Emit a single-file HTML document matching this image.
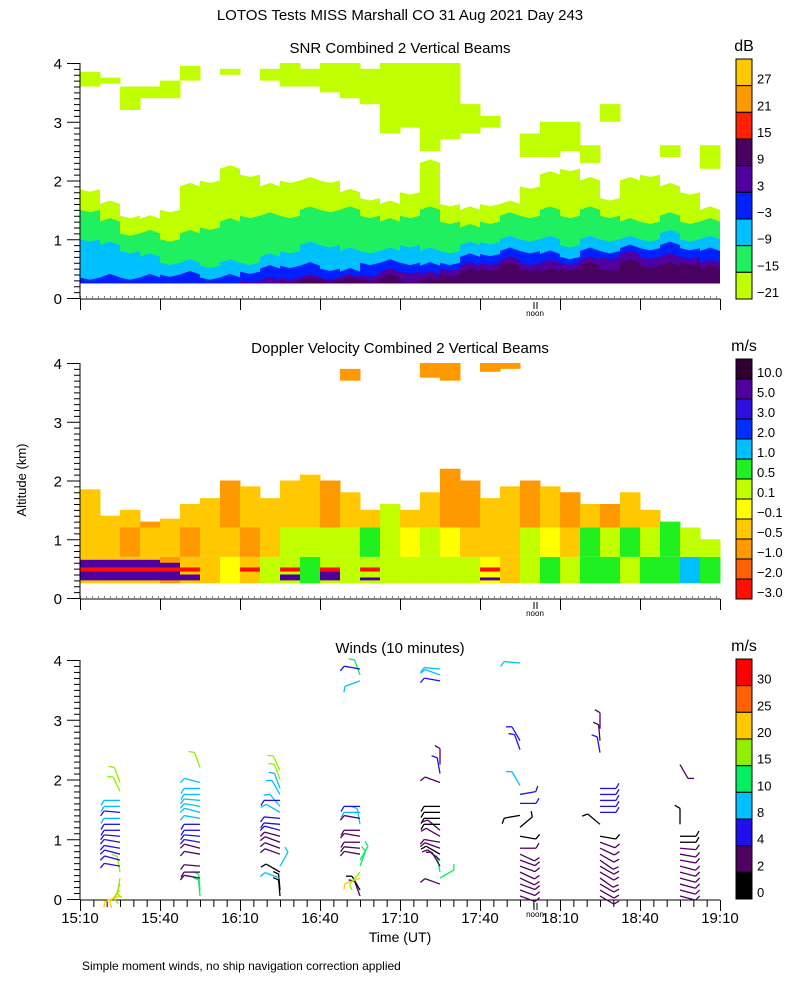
<!DOCTYPE html>
<html><head><meta charset="utf-8">
<style>
body{margin:0;background:#fff;}
svg{display:block;font-family:"Liberation Sans",sans-serif;}
</style></head>
<body>
<svg id="chart" width="800" height="1000" viewBox="0 0 800 1000">
<rect width="800" height="1000" fill="#fff"/>
<text x="400" y="20" text-anchor="middle" font-size="15">LOTOS Tests MISS Marshall CO  31 Aug 2021 Day 243</text>
<text x="400" y="53" text-anchor="middle" font-size="15">SNR Combined 2 Vertical Beams</text>
<text x="400" y="353" text-anchor="middle" font-size="15">Doppler Velocity Combined 2 Vertical Beams</text>
<text x="400" y="653" text-anchor="middle" font-size="15">Winds (10 minutes)</text>
<text x="0" y="0" transform="translate(26,480) rotate(-90)" text-anchor="middle" font-size="13">Altitude (km)</text>
<text x="400" y="942" text-anchor="middle" font-size="14">Time (UT)</text>
<text x="82" y="970" font-size="12">Simple moment winds, no ship navigation correction applied</text>
<g id="layer"></g>
</svg>
<script>
// ---------- data ----------
const colStartMin = 0; // columns each 7.5 minutes from 15:10
const snrDarkPurpleTop=[0,0,0,0,0,0,0,0,0,0,0.3,0.3,0.32,0.3,0.32,0.35,0.3,0.3,0.4,0.45,0.5,0.55,0.5,0.45,0.5,0.55,0.5,0.6,0.55,0.55,0.6,0.5];
const snrPurpleTop=[0,0,0,0,0,0,0,0,0.3,0.3,0.35,0.35,0.35,0.35,0.4,0.45,0.45,0.4,0.5,0.55,0.6,0.65,0.6,0.6,0.6,0.65,0.7,0.75,0.7,0.7,0.7,0.6];
const snrBlueTop=[0.35,0.35,0.35,0.35,0.4,0.4,0.35,0.35,0.45,0.5,0.55,0.55,0.5,0.45,0.6,0.6,0.6,0.55,0.6,0.7,0.75,0.8,0.8,0.75,0.7,0.8,0.8,0.85,0.85,0.9,0.85,0.8];
const snrCyanTop=[1.0,0.9,0.8,0.7,0.6,0.6,0.55,0.6,0.6,0.7,0.8,0.9,0.9,0.8,0.8,0.8,0.9,0.8,0.8,0.9,0.95,1.0,1.0,1.0,0.9,1.0,1.0,1.0,1.0,1.1,1.0,1.0];
const snrGreenTop=[1.5,1.3,1.1,1.1,1.0,1.1,1.2,1.3,1.4,1.4,1.4,1.5,1.5,1.5,1.4,1.3,1.4,1.5,1.3,1.2,1.3,1.4,1.4,1.5,1.4,1.5,1.4,1.3,1.3,1.4,1.3,1.3];
const snrYgTop=[1.85,1.6,1.4,1.35,1.5,1.9,2.0,2.2,2.1,1.9,2.0,2.0,2.0,1.8,1.7,1.6,1.8,2.3,1.6,1.5,1.6,1.6,1.9,2.1,2.2,2.0,1.7,2.0,2.1,1.9,1.8,1.5];
const snrUpperLo=[3.6,3.65,3.2,3.4,3.4,3.7,0,3.8,0,3.7,3.6,3.6,3.5,3.4,3.3,2.8,2.9,2.5,2.7,2.8,2.9,0,2.4,2.4,2.5,2.3,3.0,0,0,2.4,0,2.2];
const snrUpperHi=[3.85,3.75,3.6,3.6,3.7,3.95,0,3.9,0,3.9,4.0,3.9,4.0,4.0,3.9,4.0,4.0,4.0,4.0,3.3,3.1,0,2.8,3.0,3.0,2.6,3.3,0,0,2.6,0,2.6];
const dopTop=[1.85,1.4,1.5,1.3,1.35,1.6,1.7,2.0,1.9,1.7,2.0,2.1,2.0,1.8,1.5,1.6,1.5,1.8,2.2,2.0,1.7,1.9,2.0,1.9,1.8,1.6,1.6,1.8,1.5,1.3,1.2,1.0];
const dopLowClass=[3,3,3,3,2,3,3,4,3,5,5,6,5,5,5,5,5,5,5,5,4,3,5,6,5,6,6,5,6,6,7,6];
const dopMidClass=[3,3,2,3,3,2,3,3,2,3,5,5,5,5,6,5,4,5,4,3,3,3,5,4,3,6,5,6,5,6,5,5];
const dopHighClass=[3,3,3,2,3,3,3,2,3,3,3,3,2,3,3,5,3,3,2,2,3,3,2,3,2,3,2,3,3,6,5,6];
const dopStripeTop=[0.65,0.65,0.65,0.65,0.6,0.4,0,0,0.3,0,0.4,0,0.45,0,0.35,0,0,0,0,0,0.35,0,0,0,0,0,0,0,0,0,0,0];
const dopUpperLo=[0,0,0,0,0,0,0,0,0,0,0,0,0,3.7,0,0,0,3.75,3.7,0,3.85,3.9,0,0,0,0,0,0,0,0,0,0];
const dopUpperHi=[0,0,0,0,0,0,0,0,0,0,0,0,0,3.9,0,0,0,4.0,4.0,0,4.0,4.0,0,0,0,0,0,0,0,0,0,0];
const snrTickLabels=["27","21","15","9","3","−3","−9","−15","−21"];
const dopTickLabels=["10.0","5.0","3.0","2.0","1.0","0.5","0.1","−0.1","−0.5","−1.0","−2.0","−3.0"];
const windTickLabels=["30","25","20","15","10","8","4","2","0"];
const timeLabels=["15:10","15:40","16:10","16:40","17:10","17:40","18:10","18:40","19:10"];
// wind profiles: time (min after 15:10), heights (km), speeds (m/s), staff angles (deg)
const windTimes=[15,45,75,105,135,165,195,225];
const windH0=[0.05,0.15,0.25,0.35,0.45,0.55,0.65,0.75,0.85,0.95,1.05,1.15,1.25,1.35,1.45,1.55,1.65,1.8,1.95];
const windS0=[22,22,17,17,17,6,6,6,6,6,6,6,6,9,6,9,9,17,17];
const windA0=[200,230,250,260,100,170,165,165,170,170,175,180,180,180,175,180,180,115,110];
const windH1=[0.05,0.15,0.35,0.45,0.55,0.75,0.85,0.95,1.05,1.15,1.25,1.35,1.45,1.55,1.65,1.75,1.85,1.95,2.2];
const windS1=[12,12,3,3,3,3,3,6,6,6,6,9,9,9,9,9,9,9,17];
const windA1=[95,95,170,180,175,170,165,170,175,180,180,170,165,170,175,180,180,165,110];
const windH2=[0.05,0.15,0.35,0.45,0.55,0.75,0.85,0.95,1.05,1.15,1.25,1.35,1.45,1.55,1.65,1.75,1.85,2.0,2.15];
const windS2=[0,0,9,0,9,3,3,3,3,6,6,6,9,9,6,9,9,17,17];
const windA2=[95,95,160,150,60,160,160,160,165,165,175,175,150,130,180,120,110,110,115];
const windH3=[0.05,0.15,0.35,0.45,0.55,0.65,0.75,0.85,0.95,1.05,1.15,1.25,1.35,1.45,1.55,3.65,3.75,3.85];
const windS3=[3,0,22,17,12,12,3,3,3,3,3,9,3,9,6,9,12,6];
const windA3=[110,120,200,230,70,60,170,175,180,170,180,100,170,180,180,200,110,170];
const windH4=[0.25,0.35,0.45,0.55,0.65,0.75,0.85,0.95,1.05,1.15,1.25,1.35,1.45,1.55,1.95,2.1,2.25,3.65,3.75,3.85];
const windS4=[3,12,12,3,3,0,3,3,3,3,0,0,0,0,3,6,3,6,9,9];
const windA4=[160,30,100,120,140,150,160,170,150,140,180,180,180,180,160,100,90,170,160,175];
const windH5=[0.05,0.15,0.25,0.35,0.45,0.55,0.65,0.75,0.85,1.05,1.2,1.4,1.6,1.75,1.9,2.5,2.65,3.95];
const windS5=[3,3,3,3,3,3,3,3,3,0,0,0,6,6,9,6,6,9];
const windA5=[-20,-20,-20,-25,-25,-20,-20,-25,0,-10,40,190,0,10,120,110,120,175];
const windH6=[0.05,0.15,0.25,0.35,0.45,0.55,0.65,0.75,0.85,0.95,1.05,1.25,1.45,1.55,1.65,1.75,1.85,2.45,2.65,2.85];
const windS6=[3,3,3,3,3,3,3,3,3,3,0,0,6,6,6,6,6,6,3,3];
const windA6=[-30,-30,-30,-35,-30,-30,-35,-30,-25,-20,-10,140,0,0,0,0,0,100,95,90];
const windH7=[0.05,0.15,0.25,0.35,0.45,0.55,0.65,0.75,0.85,0.95,1.05,1.25,2.25];
const windS7=[3,3,3,3,3,3,3,3,3,0,0,0,3];
const windA7=[-15,-15,-15,-15,-15,-15,-10,-10,-5,0,0,90,-60];
// ---------- helpers ----------
const NS="http://www.w3.org/2000/svg";
const layer=document.getElementById('layer');
function mk(tag,attrs,parent){const e=document.createElementNS(NS,tag);for(const k in attrs)e.setAttribute(k,attrs[k]);(parent||layer).appendChild(e);return e;}
const X0=80,X1=720;
function xOfMin(m){return X0+m*(X1-X0)/240;}
const panels=[{base:298,scale:58.75},{base:598,scale:58.75},{base:899,scale:59.75}];
function yOf(p,km){return panels[p].base-km*panels[p].scale;}
const colW=7.5;
const snrColors=["#ffc800","#ff9900","#ff2000","#4a0060","#5000a0","#0020ff","#00c0ff","#20f060","#c0ff00"];
const dopColors=["#ff1000","#ff6000","#ff9900","#ffc800","#ffff00","#c0ff00","#20f020","#00c0ff","#0030ff","#3010e0","#5000a0","#300030"];
const windColors=["#ff0000","#ff6000","#ffc800","#90f000","#00f060","#00c0ff","#2010f0","#500060","#000000"];
function windColor(s){if(s<2)return windColors[8];if(s<4)return windColors[7];if(s<8)return windColors[6];if(s<10)return windColors[5];if(s<15)return windColors[4];if(s<20)return windColors[3];if(s<25)return windColors[2];if(s<30)return windColors[1];return windColors[0];}
// band polygon from floor to tops array
function band(p,tops,floor,color,name){
  let pts=[];const n=tops.length;
  const fl=[];
  for(let i=0;i<n;i++){
    const xa=xOfMin(i*colW), xb=xOfMin((i+1)*colW);
    const t=tops[i];
    if(t<=floor){ if(pts.length){fl.push(pts);pts=[];} continue; }
    pts.push([xa,yOf(p,t)],[(xa+xb)/2,yOf(p,t+ (i%2?0.06:-0.04))],[xb,yOf(p,t)]);
  }
  if(pts.length)fl.push(pts);
  fl.forEach((seg,k)=>{
    const x0=seg[0][0],x1=seg[seg.length-1][0];
    const d=seg.map(q=>q.join(',')).join(' ')+` ${x1},${yOf(p,floor)} ${x0},${yOf(p,floor)}`;
    const e=mk('polygon',{points:d,fill:color});
    
    
  });
}
function rectKm(p,i,lo,hi,color,name){
  if(hi<=lo)return;
  const e=mk('rect',{x:xOfMin(i*colW),y:yOf(p,hi),width:xOfMin((i+1)*colW)-xOfMin(i*colW)+0.5,height:yOf(p,lo)-yOf(p,hi),fill:color});
  
  
}
// ---------- SNR ----------
band(0,snrYgTop,0.25,snrColors[8],'snr-band-minus21');
band(0,snrGreenTop,0.25,snrColors[7],'snr-band-minus15');
band(0,snrCyanTop,0.25,snrColors[6],'snr-band-minus9');
band(0,snrBlueTop,0.25,snrColors[5],'snr-band-minus3');
band(0,snrPurpleTop,0.25,snrColors[4],'snr-band-3');
band(0,snrDarkPurpleTop,0.25,snrColors[3],'snr-band-9');
for(let i=0;i<snrUpperLo.length;i++){ if(snrUpperHi[i]>0) rectKm(0,i,snrUpperLo[i],snrUpperHi[i],snrColors[8],'snr-upper-patch'); }
// ---------- Doppler ----------
for(let i=0;i<dopTop.length;i++){
  const t=dopTop[i];
  rectKm(1,i,0.25,Math.min(t,0.7),dopColors[dopLowClass[i]],'doppler-low-cell');
  rectKm(1,i,0.7,Math.min(t,1.2),dopColors[dopMidClass[i]],'doppler-mid-cell');
  rectKm(1,i,1.2,t,dopColors[dopHighClass[i]],'doppler-high-cell');
  if(dopStripeTop[i]>0){
    rectKm(1,i,0.3,dopStripeTop[i],dopColors[10],'doppler-stripe');
    rectKm(1,i,0.45,0.52,dopColors[0],'doppler-stripe-red');
  }
  if(dopUpperHi[i]>0) rectKm(1,i,dopUpperLo[i],dopUpperHi[i],dopColors[2],'doppler-upper-patch');
}
// ---------- Axes ----------
const axisNames=['snr','doppler','winds'];
for(let p=0;p<3;p++){
  const g=mk('g',{});
  
  
  const yb=panels[p].base+1, yt=yOf(p,4);
  mk('line',{x1:X0,y1:yt,x2:X0,y2:yb,stroke:'#000'},g);
  mk('line',{x1:X0,y1:yb,x2:X1,y2:yb,stroke:'#000'},g);
  for(let k=0;k<=40;k++){
    const y=yOf(p,k/10)+0.5;
    mk('line',{x1:(k%10==0)?67:74,y1:y,x2:X0,y2:y,stroke:'#000'},g);
  }
  for(let k=0;k<=4;k++){
    const t=mk('text',{x:62,y:yOf(p,k)+6,'text-anchor':'end','font-size':15},g);
    t.textContent=k;
    
    
  }
  for(let k=0;k<timeLabels.length;k++){
    const x=xOfMin(k*30)+0.5;
    mk('line',{x1:x,y1:yb,x2:x,y2:yb+11,stroke:'#000'},g);
  }
  if(p==2){
    for(let m=0;m<=240;m+=5){ if(m%30){const x=xOfMin(m)+0.5; mk('line',{x1:x,y1:yb,x2:x,y2:yb+7,stroke:'#000'},g);} }
    for(let k=0;k<timeLabels.length;k++){
      const t=mk('text',{x:xOfMin(k*30),y:yb+23,'text-anchor':'middle','font-size':15},g);
      t.textContent=timeLabels[k];
      
      
    }
  } else {
    mk('line',{x1:X0,y1:yb-2,x2:X1,y2:yb-2,stroke:'#000','stroke-dasharray':'1,5'},g);
  }
  mk('line',{x1:534,y1:yb+3,x2:534,y2:yb+10,stroke:'#000'},g);
  mk('line',{x1:537,y1:yb+3,x2:537,y2:yb+10,stroke:'#000'},g);
  const nt=mk('text',{x:535,y:yb+17,'text-anchor':'middle','font-size':8},g);
  nt.textContent='noon';
  
  
}
// ---------- Winds ----------
const windH=[windH0,windH1,windH2,windH3,windH4,windH5,windH6,windH7];
const windS=[windS0,windS1,windS2,windS3,windS4,windS5,windS6,windS7];
const windA=[windA0,windA1,windA2,windA3,windA4,windA5,windA6,windA7];
for(let j=0;j<windTimes.length;j++){
  const px=xOfMin(windTimes[j]);
  for(let i=0;i<windH[j].length;i++){
    const py=yOf(2,windH[j][i]);
    const a=windA[j][i]*Math.PI/180, L=16;
    const ex=px+L*Math.cos(a), ey=py-L*Math.sin(a);
    const c=windColor(windS[j][i]);
    const g=mk('g',{stroke:c,'stroke-width':1.3,fill:'none'});
    
    
    mk('line',{x1:px,y1:py,x2:ex,y2:ey},g);
    const b=a+Math.PI/3;
    mk('line',{x1:ex,y1:ey,x2:ex+6*Math.cos(b),y2:ey-6*Math.sin(b)},g);
  }
}
// ---------- Colorbars ----------
function colorbar(top,h,colors,labels,unit,name){
  const g=mk('g',{});
  
  
  const n=colors.length, bh=h/n;
  for(let i=0;i<n;i++){
    mk('rect',{x:736,y:top+i*bh,width:16,height:bh,fill:colors[i],stroke:'#000','stroke-width':1},g);
    const t=mk('text',{x:757,y:top+(i+1)*bh-2,'font-size':13},g);
    t.textContent=labels[i];
  }
  const u=mk('text',{x:744,y:top-8,'text-anchor':'middle','font-size':16},g);
  u.textContent=unit;
}
colorbar(59,240,snrColors,snrTickLabels,'dB','snr-colorbar');
colorbar(359,240,dopColors.slice().reverse(),dopTickLabels,'m/s','doppler-colorbar');
colorbar(659,240,windColors,windTickLabels,'m/s','wind-colorbar');
</script>
</body></html>
